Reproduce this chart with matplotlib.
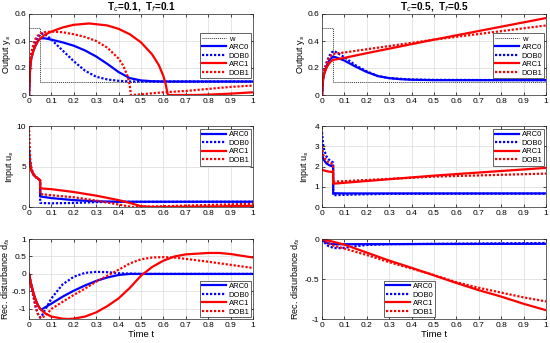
import matplotlib
matplotlib.use("Agg")
import matplotlib.pyplot as plt

plt.rcParams['font.family'] = ['Liberation Sans', 'DejaVu Sans']

# ---------------- reference w ----------------
w_t = [0, 0.05, 0.05, 1.0]
w_v = [0.5, 0.5, 0.1, 0.1]

# ---------------- Left column: Tc=0.1, Tf=0.1 ----------------
L_y_arc0_t = [0, 0.005, 0.01, 0.02, 0.03, 0.04, 0.05, 0.07, 0.1, 0.15, 0.2, 0.25, 0.3, 0.35, 0.4, 0.45, 0.5, 0.55, 0.6, 1.0]
L_y_arc0 = [0, 0.2, 0.27, 0.33, 0.37, 0.40, 0.42, 0.42, 0.41, 0.39, 0.365, 0.33, 0.285, 0.23, 0.17, 0.125, 0.108, 0.102, 0.1, 0.1]
L_y_dob0_t = [0, 0.005, 0.01, 0.02, 0.03, 0.04, 0.05, 0.06, 0.08, 0.1, 0.15, 0.2, 0.25, 0.3, 0.35, 0.4, 0.45, 1.0]
L_y_dob0 = [0, 0.22, 0.29, 0.36, 0.40, 0.43, 0.45, 0.455, 0.44, 0.41, 0.33, 0.25, 0.18, 0.135, 0.115, 0.105, 0.1, 0.1]
L_y_arc1_t = [0, 0.005, 0.01, 0.02, 0.03, 0.04, 0.05, 0.07, 0.1, 0.15, 0.2, 0.27, 0.35, 0.4, 0.45, 0.5, 0.55, 0.58, 0.6, 0.61, 0.62, 0.75, 0.8, 0.9, 1.0]
L_y_arc1 = [0, 0.2, 0.27, 0.33, 0.37, 0.40, 0.42, 0.445, 0.47, 0.50, 0.52, 0.53, 0.515, 0.49, 0.45, 0.39, 0.30, 0.22, 0.14, 0.08, 0.0, 0.0, 0.003, 0.01, 0.02]
L_y_dob1_t = [0, 0.005, 0.01, 0.02, 0.03, 0.04, 0.05, 0.07, 0.1, 0.15, 0.2, 0.25, 0.3, 0.35, 0.4, 0.42, 0.44, 0.45, 0.455, 0.5, 0.6, 0.7, 0.8, 0.9, 1.0]
L_y_dob1 = [0, 0.24, 0.31, 0.38, 0.42, 0.44, 0.455, 0.465, 0.47, 0.465, 0.45, 0.43, 0.40, 0.35, 0.27, 0.22, 0.14, 0.07, 0.0, 0.005, 0.02, 0.03, 0.045, 0.06, 0.07]

L_u_arc0_t = [0, 0.005, 0.01, 0.02, 0.03, 0.04, 0.0495, 0.05, 0.1, 0.2, 0.3, 0.4, 0.5, 1.0]
L_u_arc0 = [7.0, 5.5, 4.6, 4.0, 3.7, 3.5, 3.3, 1.3, 1.1, 0.85, 0.7, 0.65, 0.65, 0.65]
L_u_dob0_t = [0, 0.005, 0.01, 0.02, 0.03, 0.04, 0.0495, 0.05, 0.1, 0.2, 0.3, 0.4, 1.0]
L_u_dob0 = [7.5, 5.6, 4.7, 4.0, 3.7, 3.5, 3.3, 0.5, 0.45, 0.5, 0.6, 0.63, 0.65]
L_u_arc1_t = [0, 0.005, 0.01, 0.02, 0.03, 0.04, 0.0495, 0.05, 0.1, 0.2, 0.3, 0.4, 0.45, 0.5, 0.55, 0.62, 0.8, 1.0]
L_u_arc1 = [6.0, 5.2, 4.5, 4.0, 3.7, 3.5, 3.3, 2.3, 2.2, 1.85, 1.4, 0.85, 0.5, 0.1, 0.0, 0.0, 0.05, 0.15]
L_u_dob1_t = [0, 0.005, 0.01, 0.02, 0.03, 0.04, 0.0495, 0.05, 0.1, 0.2, 0.3, 0.4, 0.45, 0.46, 0.6, 0.8, 1.0]
L_u_dob1 = [10.0, 6.0, 4.8, 4.1, 3.8, 3.5, 3.3, 1.6, 1.45, 1.2, 0.8, 0.3, 0.05, 0.0, 0.1, 0.25, 0.4]

L_d_arc0_t = [0, 0.01, 0.02, 0.03, 0.04, 0.05, 0.055, 0.06, 0.1, 0.15, 0.2, 0.25, 0.3, 0.35, 0.4, 0.45, 1.0]
L_d_arc0 = [0, -0.3, -0.55, -0.75, -0.9, -1.0, -1.03, -1.0, -0.85, -0.65, -0.48, -0.33, -0.2, -0.1, -0.03, 0.0, 0.0]
L_d_dob0_t = [0, 0.01, 0.02, 0.03, 0.04, 0.05, 0.055, 0.07, 0.1, 0.15, 0.2, 0.25, 0.3, 0.35, 0.4, 0.5, 1.0]
L_d_dob0 = [0, -0.35, -0.65, -0.95, -1.15, -1.25, -1.22, -1.05, -0.7, -0.3, -0.08, 0.03, 0.06, 0.05, 0.02, 0.0, 0.0]
L_d_arc1_t = [0, 0.01, 0.02, 0.03, 0.04, 0.05, 0.07, 0.1, 0.15, 0.17, 0.2, 0.25, 0.3, 0.35, 0.4, 0.45, 0.5, 0.55, 0.6, 0.65, 0.7, 0.8, 0.85, 0.9, 0.95, 1.0]
L_d_arc1 = [0, -0.3, -0.55, -0.75, -0.9, -1.0, -1.12, -1.22, -1.28, -1.29, -1.28, -1.22, -1.1, -0.92, -0.7, -0.4, -0.05, 0.2, 0.38, 0.5, 0.56, 0.6, 0.6, 0.57, 0.52, 0.47]
L_d_dob1_t = [0, 0.01, 0.02, 0.03, 0.04, 0.05, 0.06, 0.08, 0.1, 0.15, 0.2, 0.25, 0.3, 0.35, 0.4, 0.45, 0.5, 0.55, 0.6, 0.65, 0.7, 0.8, 0.9, 1.0]
L_d_dob1 = [0, -0.35, -0.65, -0.95, -1.15, -1.25, -1.25, -1.15, -1.0, -0.8, -0.6, -0.42, -0.22, -0.05, 0.12, 0.3, 0.42, 0.47, 0.48, 0.47, 0.43, 0.35, 0.26, 0.17]

# ---------------- Right column: Tc=0.5, Tf=0.5 ----------------
R_y_arc0_t = [0, 0.005, 0.01, 0.02, 0.03, 0.04, 0.05, 0.06, 0.1, 0.15, 0.2, 0.25, 0.3, 0.35, 0.4, 0.5, 1.0]
R_y_arc0 = [0, 0.12, 0.16, 0.21, 0.25, 0.27, 0.285, 0.28, 0.255, 0.21, 0.17, 0.14, 0.125, 0.117, 0.113, 0.11, 0.11]
R_y_dob0_t = [0, 0.005, 0.01, 0.02, 0.03, 0.04, 0.05, 0.06, 0.1, 0.15, 0.2, 0.25, 0.3, 0.4, 0.5, 1.0]
R_y_dob0 = [0, 0.13, 0.18, 0.24, 0.28, 0.31, 0.325, 0.32, 0.28, 0.22, 0.175, 0.14, 0.125, 0.115, 0.112, 0.11]
R_y_arc1_t = [0, 0.005, 0.01, 0.02, 0.03, 0.04, 0.05, 0.1, 0.2, 0.5, 1.0]
R_y_arc1 = [0, 0.12, 0.16, 0.2, 0.23, 0.25, 0.26, 0.275, 0.31, 0.41, 0.57]
R_y_dob1_t = [0, 0.005, 0.01, 0.02, 0.03, 0.04, 0.05, 0.1, 0.5, 1.0]
R_y_dob1 = [0, 0.13, 0.18, 0.23, 0.27, 0.29, 0.305, 0.315, 0.41, 0.515]

R_u_arc0_t = [0, 0.005, 0.01, 0.02, 0.03, 0.04, 0.0495, 0.05, 0.1, 1.0]
R_u_arc0 = [2.7, 2.4, 2.3, 2.15, 2.08, 2.03, 2.0, 0.68, 0.67, 0.67]
R_u_dob0_t = [0, 0.005, 0.01, 0.02, 0.03, 0.04, 0.0495, 0.05, 0.1, 0.2, 0.3, 1.0]
R_u_dob0 = [3.7, 3.1, 2.8, 2.5, 2.35, 2.25, 2.2, 0.58, 0.6, 0.63, 0.65, 0.66]
R_u_arc1_t = [0, 0.01, 0.03, 0.0495, 0.05, 0.5, 1.0]
R_u_arc1 = [1.85, 1.8, 1.75, 1.72, 1.15, 1.55, 1.93]
R_u_dob1_t = [0, 0.005, 0.01, 0.02, 0.03, 0.0495, 0.05, 0.5, 1.0]
R_u_dob1 = [3.0, 2.6, 2.45, 2.3, 2.2, 2.1, 1.25, 1.5, 1.65]

R_d_arc0_t = [0, 0.01, 0.02, 0.04, 0.05, 0.1, 1.0]
R_d_arc0 = [0, -0.03, -0.05, -0.06, -0.065, -0.065, -0.06]
R_d_dob0_t = [0, 0.01, 0.02, 0.03, 0.05, 0.07, 0.1, 0.15, 0.2, 0.3, 0.5, 1.0]
R_d_dob0 = [0, -0.04, -0.07, -0.09, -0.11, -0.115, -0.11, -0.09, -0.075, -0.065, -0.06, -0.05]
R_d_arc1_t = [0, 0.1, 0.2, 0.3, 0.4, 0.5, 0.6, 0.7, 0.8, 0.9, 1.0]
R_d_arc1 = [0, -0.07, -0.17, -0.27, -0.36, -0.455, -0.55, -0.64, -0.72, -0.81, -0.89]
R_d_dob1_t = [0, 0.02, 0.05, 0.1, 0.2, 0.3, 0.4, 0.5, 0.6, 0.7, 0.8, 0.9, 1.0]
R_d_dob1 = [0, -0.04, -0.08, -0.12, -0.2, -0.29, -0.37, -0.45, -0.54, -0.61, -0.67, -0.73, -0.78]

titles = ["T$_c$=0.1,  T$_f$=0.1", "T$_c$=0.5,  T$_f$=0.5"]
ylabels = ["Output y$_s$", "Input u$_s$", "Rec. disturbance d$_{fs}$"]
names = ["ARC0", "DOB0", "ARC1", "DOB1"]
xticks = [0, 0.1, 0.2, 0.3, 0.4, 0.5, 0.6, 0.7, 0.8, 0.9, 1.0]
xticklabels = ["0", "0.1", "0.2", "0.3", "0.4", "0.5", "0.6", "0.7", "0.8", "0.9", "1"]

BLUE = "#0000ff"
RED = "#ff0000"
dot = (0, (1, 0.8))
styles = [(BLUE, "-"), (BLUE, dot), (RED, "-"), (RED, dot)]

data = {
    (0, 0): [(L_y_arc0_t, L_y_arc0), (L_y_dob0_t, L_y_dob0), (L_y_arc1_t, L_y_arc1), (L_y_dob1_t, L_y_dob1)],
    (1, 0): [(L_u_arc0_t, L_u_arc0), (L_u_dob0_t, L_u_dob0), (L_u_arc1_t, L_u_arc1), (L_u_dob1_t, L_u_dob1)],
    (2, 0): [(L_d_arc0_t, L_d_arc0), (L_d_dob0_t, L_d_dob0), (L_d_arc1_t, L_d_arc1), (L_d_dob1_t, L_d_dob1)],
    (0, 1): [(R_y_arc0_t, R_y_arc0), (R_y_dob0_t, R_y_dob0), (R_y_arc1_t, R_y_arc1), (R_y_dob1_t, R_y_dob1)],
    (1, 1): [(R_u_arc0_t, R_u_arc0), (R_u_dob0_t, R_u_dob0), (R_u_arc1_t, R_u_arc1), (R_u_dob1_t, R_u_dob1)],
    (2, 1): [(R_d_arc0_t, R_d_arc0), (R_d_dob0_t, R_d_dob0), (R_d_arc1_t, R_d_arc1), (R_d_dob1_t, R_d_dob1)],
}
ylims = {
    (0, 0): (0, 0.6), (1, 0): (0, 10), (2, 0): (-1.29, 1),
    (0, 1): (0, 0.6), (1, 1): (0, 4), (2, 1): (-1, 0),
}
yticks = {
    (0, 0): [0, 0.2, 0.4, 0.6], (1, 0): [0, 5, 10], (2, 0): [-1, -0.5, 0, 0.5, 1],
    (0, 1): [0, 0.2, 0.4, 0.6], (1, 1): [0, 1, 2, 3, 4], (2, 1): [-1, -0.5, 0],
}
yticklabels = {
    (0, 0): ["0", "0.2", "0.4", "0.6"], (1, 0): ["0", "5", "10"], (2, 0): ["-1", "-0.5", "0", "0.5", "1"],
    (0, 1): ["0", "0.2", "0.4", "0.6"], (1, 1): ["0", "1", "2", "3", "4"], (2, 1): ["-1", "-0.5", "0"],
}
# right edge (fig px) of each y-label
label_right_px = {
    (0, 0): 13, (1, 0): 16, (2, 0): 12,
    (0, 1): 307, (1, 1): 311, (2, 1): 302,
}

W, H = 550, 343
fig = plt.figure(figsize=(W / 100, H / 100), dpi=100)
lefts = [29, 322]
rows = [(14, 95), (126, 207), (239, 319)]

FS = 6
for r in range(3):
    for c in range(2):
        top, bot = rows[r]
        ax = fig.add_axes([lefts[c] / W, 1 - bot / H, 224 / W, (bot - top) / H])
        ax.grid(True, color="#e0e0e0", linewidth=0.6)
        ax.set_axisbelow(True)
        handles = []
        if r == 0:
            h, = ax.plot(w_t, w_v, color="#333333", linestyle=(0, (1, 1)), linewidth=0.7, label="w")
            handles.append(h)
        for (t, v), (col, ls), nm in zip(data[(r, c)], styles, names):
            h, = ax.plot(t, v, color=col, linestyle=ls, linewidth=1.6, label=nm)
            handles.append(h)
        ax.set_xlim(0, 1)
        ax.set_ylim(*ylims[(r, c)])
        ax.set_xticks(xticks)
        ax.set_xticklabels(xticklabels)
        ax.set_yticks(yticks[(r, c)])
        ax.set_yticklabels(yticklabels[(r, c)])
        ax.tick_params(direction="in", length=2, labelsize=FS, pad=2, top=True, right=True, width=0.5)
        for s in ax.spines.values():
            s.set_linewidth(0.5)
            s.set_color("#262626")
        ax.set_ylabel(ylabels[r], fontsize=FS + 0.5)
        ax.yaxis.set_label_coords((label_right_px[(r, c)] - lefts[c]) / 224, 0.5)
        if r == 0:
            ax.set_title(titles[c], fontsize=FS + 1.2, fontweight="bold", pad=3)
        if r == 2:
            ax.set_xlabel("Time t", fontsize=FS + 0.8, labelpad=1)
        if r == 2 and c == 1:
            loc = dict(loc="lower left", bbox_to_anchor=(0.27, 0.0))
        elif r == 2:
            loc = dict(loc="lower right", bbox_to_anchor=(1.0, 0.0))
        elif r == 0:
            loc = dict(loc="upper right", bbox_to_anchor=(1.0, 0.78))
        else:
            loc = dict(loc="upper right", bbox_to_anchor=(1.0, 0.98))
        leg = ax.legend(handles=handles, fontsize=FS - 0.5, frameon=True, fancybox=False,
                        edgecolor="#262626", framealpha=1, handlelength=3.2, handletextpad=0.3,
                        borderpad=0.25, labelspacing=0.15, borderaxespad=0.2, **loc)
        leg.get_frame().set_linewidth(0.5)

fig.savefig("out.png", dpi=100)
